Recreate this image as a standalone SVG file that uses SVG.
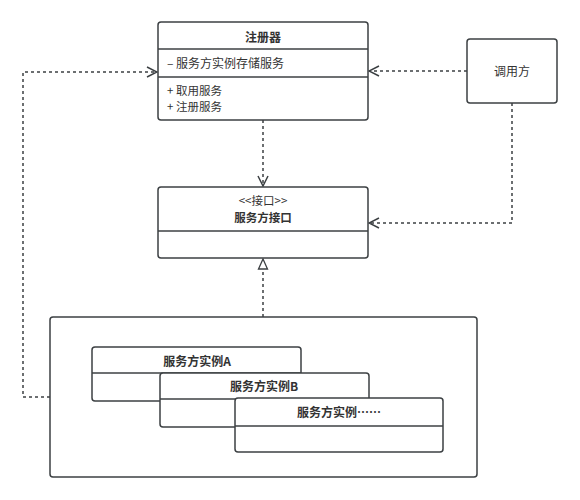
<svg xmlns="http://www.w3.org/2000/svg" width="580" height="500" viewBox="0 0 580 500">
<defs>
<style>
.box{fill:#fff;stroke:#3c4043;stroke-width:1.5}
.ln{stroke:#3c4043;stroke-width:1.5}
.dash{fill:none;stroke:#3c4043;stroke-width:1.5;stroke-dasharray:3 3}
text{font-family:"Noto Sans CJK SC","Noto Sans",sans-serif;fill:#333;font-size:12px}
.s{font-size:11.5px}
.t{font-weight:600;text-anchor:middle}
.c{text-anchor:middle}
</style>
<marker id="open" viewBox="0 0 12 12" refX="11" refY="6" markerWidth="12" markerHeight="12" markerUnits="userSpaceOnUse" orient="auto">
<path d="M1,1 L11,6 L1,11" fill="none" stroke="#3c4043" stroke-width="1.5"/>
</marker>
<marker id="tri" viewBox="0 0 12 12" refX="11" refY="6" markerWidth="12" markerHeight="12" markerUnits="userSpaceOnUse" orient="auto">
<path d="M1,1.5 L11,6 L1,10.5 Z" fill="#fff" stroke="#3c4043" stroke-width="1.3"/>
</marker>
</defs>
<rect width="580" height="500" fill="#fff"/>

<g id="connectors">
<path class="dash" d="M263,120 V186" marker-end="url(#open)"/>
<path class="dash" d="M467,71 H369" marker-end="url(#open)"/>
<path class="dash" d="M512,103 V223 H369" marker-end="url(#open)"/>
<path class="dash" d="M263,317 V259" marker-end="url(#tri)"/>
<path class="dash" d="M50,397 H23 V72 H157" marker-end="url(#open)"/>
</g>

<g id="registry">
<rect class="box" x="158" y="22" width="210" height="98" rx="3"/>
<line class="ln" x1="158" y1="49" x2="368" y2="49"/>
<line class="ln" x1="158" y1="77" x2="368" y2="77"/>
<text class="t" x="263" y="42">注册器</text>
<text x="167" y="68">– 服务方实例存储服务</text>
<text class="s" x="167" y="95">+ 取用服务</text>
<text class="s" x="167" y="111">+ 注册服务</text>
</g>

<g id="caller">
<rect class="box" x="467" y="39" width="90" height="64" rx="3"/>
<text class="c" x="512" y="76">调用方</text>
</g>

<g id="interface">
<rect class="box" x="158" y="187" width="210" height="71" rx="3"/>
<line class="ln" x1="158" y1="231" x2="368" y2="231"/>
<text class="c s" x="263" y="205">&lt;&lt;接口&gt;&gt;</text>
<text class="t s" x="263" y="222">服务方接口</text>
</g>

<g id="container">
<rect class="box" x="50" y="317" width="427" height="160" rx="3"/>
</g>

<g id="instanceA">
<rect class="box" x="92" y="347" width="209" height="54" rx="3"/>
<line class="ln" x1="92" y1="373" x2="301" y2="373"/>
<text class="t" x="197" y="366">服务方实例A</text>
</g>

<g id="instanceB">
<rect class="box" x="160" y="373" width="209" height="54" rx="3"/>
<line class="ln" x1="160" y1="399" x2="369" y2="399"/>
<text class="t" x="264" y="391">服务方实例B</text>
</g>

<g id="instanceN">
<rect class="box" x="235" y="398" width="208" height="54" rx="3"/>
<line class="ln" x1="235" y1="426" x2="443" y2="426"/>
<text class="t" x="339" y="417">服务方实例……</text>
</g>
</svg>
